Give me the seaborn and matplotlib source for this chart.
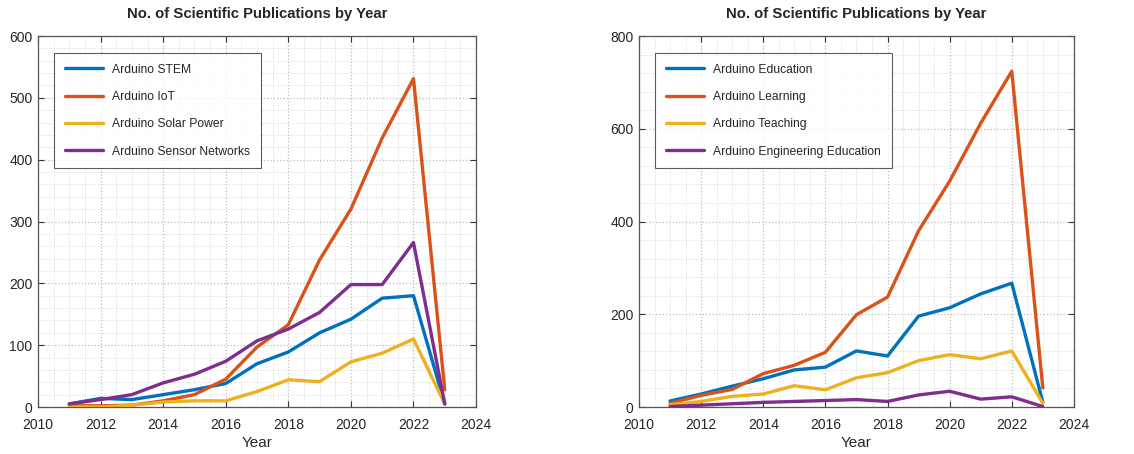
import numpy as np
import pandas as pd
import matplotlib
matplotlib.use("Agg")
import matplotlib.pyplot as plt
import seaborn as sns
from matplotlib.ticker import MultipleLocator

years = [2011, 2012, 2013, 2014, 2015, 2016, 2017, 2018, 2019, 2020, 2021, 2022, 2023]

# Left panel
stem = [5, 14, 12, 20, 28, 38, 70, 89, 120, 142, 176, 180, 5]
iot = [2, 2, 3, 10, 20, 45, 97, 133, 238, 320, 435, 531, 28]
solar = [0, 0, 3, 8, 10, 10, 25, 44, 41, 73, 87, 110, 5]
sensor = [5, 12, 20, 39, 53, 74, 107, 126, 153, 198, 198, 266, 5]
left_labels = ["Arduino STEM", "Arduino IoT", "Arduino Solar Power", "Arduino Sensor Networks"]

# Right panel
education = [13, 28, 45, 61, 80, 86, 121, 110, 196, 214, 244, 267, 10]
learning = [8, 25, 38, 72, 90, 118, 199, 237, 380, 487, 612, 724, 41]
teaching = [5, 12, 23, 28, 46, 37, 63, 74, 100, 113, 104, 121, 8]
eng_edu = [1, 4, 7, 10, 12, 14, 16, 12, 26, 34, 17, 22, 1]
right_labels = ["Arduino Education", "Arduino Learning", "Arduino Teaching", "Arduino Engineering Education"]

title = "No. of Scientific Publications by Year"
xlabel = "Year"

colors = ["#0072BD", "#D95319", "#EDB120", "#7E2F8E"]

sns.set_theme(style="white")
plt.rcParams["font.family"] = ["Liberation Sans", "DejaVu Sans"]

fig = plt.figure(figsize=(11.34, 4.54), dpi=100)
ax1 = fig.add_axes([0.0335, 0.1035, 0.3863, 0.8172])
ax2 = fig.add_axes([0.5635, 0.1035, 0.3835, 0.8172])


def draw(ax, series, labels, ymax, ymajor, yminor):
    frames = []
    for vals, lab in zip(series, labels):
        frames.append(pd.DataFrame({"Year": years, "Count": vals, "Series": lab}))
    df = pd.concat(frames, ignore_index=True)
    sns.lineplot(data=df, x="Year", y="Count", hue="Series", palette=colors,
                 hue_order=labels, ax=ax, linewidth=2.4, legend=False, zorder=3)
    ax.set_xlim(2010, 2024)
    ax.set_ylim(0, ymax)
    ax.xaxis.set_major_locator(MultipleLocator(2))
    ax.xaxis.set_minor_locator(MultipleLocator(0.5))
    ax.yaxis.set_major_locator(MultipleLocator(ymajor))
    ax.yaxis.set_minor_locator(MultipleLocator(yminor))
    ax.grid(which="major", color="#bdbdbd", linestyle=":", linewidth=0.9, zorder=0)
    ax.grid(which="minor", color="#d8d8d8", linestyle=":", linewidth=0.7, zorder=0)
    ax.tick_params(which="major", direction="in", length=4, width=0.8, color="#333333",
                   top=True, right=True, bottom=True, left=True, labelsize=10,
                   labelcolor="#262626")
    ax.tick_params(axis="x", which="major", pad=8)
    ax.tick_params(axis="y", which="major", pad=4)
    ax.tick_params(which="minor", length=0)
    for s in ax.spines.values():
        s.set_color("#555555")
        s.set_linewidth(0.9)
    ax.set_xlabel(xlabel, fontsize=11, color="#262626", labelpad=3)
    ax.set_ylabel("")
    ax.set_title(title, fontsize=10.7, fontweight="bold", pad=13)
    handles = [plt.Line2D([], [], color=c, linewidth=2.4) for c in colors]
    leg = ax.legend(handles, labels, loc="upper left", bbox_to_anchor=(0.036, 0.955),
                    fontsize=8.7, frameon=True, fancybox=False, handlelength=3.2,
                    labelspacing=1.27, borderpad=0.9, handletextpad=0.75,
                    borderaxespad=0)
    leg.get_frame().set_edgecolor("#333333")
    leg.get_frame().set_linewidth(0.8)


draw(ax1, [stem, iot, solar, sensor], left_labels, 600, 100, 20)
draw(ax2, [education, learning, teaching, eng_edu], right_labels, 800, 200, 40)

fig.savefig("out.png", dpi=100, facecolor="white")
